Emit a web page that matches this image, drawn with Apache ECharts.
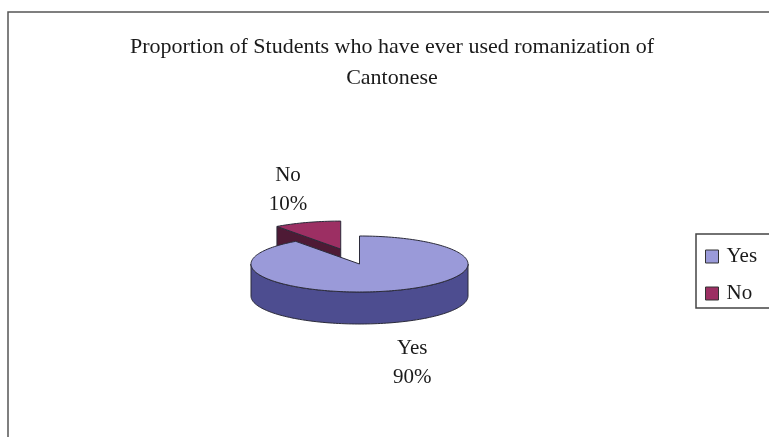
<!DOCTYPE html>
<html>
<head>
<meta charset="utf-8">
<script src="https://cdn.jsdelivr.net/npm/echarts@6/dist/echarts.min.js"></script>
<style>
  html, body { margin: 0; padding: 0; background: #ffffff; }
  #chart { width: 769px; height: 437px; }
</style>
</head>
<body>
<div id="chart"></div>
<script>
// Survey result: share of students who have ever used Cantonese romanization
const categories = ['Yes', 'No'];
const percents = [90, 10];
const chartTitle = 'Proportion of Students who have ever used romanization of\nCantonese';

// Styling
const topColors = ['#9a9ad9', '#9c2f63'];
const sideColors = ['#4d4d90', '#4e1a35'];
const explodeBy = { No: 0.56 };
const PIE = { cx: 359.5, cy: 264, rx: 108.5, ry: 28, depth: 32 };
const SERIF = '"Liberation Serif", "Times New Roman", serif';
const EDGE = '#2b2b3a';

const total = percents.reduce((a, b) => a + b, 0);

// Start angle of slice i: 12 o'clock, slices run clockwise
function startAngle(i) {
  let before = 0;
  for (let k = 0; k < i; k++) before += percents[k];
  return Math.PI / 2 - 2 * Math.PI * before / total;
}

function renderSlice(i) {
  return function (params, api) {
    const value = api.value(0);
    const name = categories[i];
    const a0 = startAngle(i);
    const a1 = a0 - 2 * Math.PI * value / total;
    const b = (a0 + a1) / 2;
    const e = explodeBy[name] || 0;
    const cx = PIE.cx + e * PIE.rx * Math.cos(b);
    const cy = PIE.cy - e * PIE.ry * Math.sin(b);
    const h = PIE.depth;
    const pt = (t, z) => [cx + PIE.rx * Math.cos(t), cy - PIE.ry * Math.sin(t) + (z || 0)];
    const arc = (s, t, z) => {
      const n = Math.max(2, Math.ceil(Math.abs(t - s) / 0.03));
      const out = [];
      for (let j = 0; j <= n; j++) out.push(pt(s + (t - s) * j / n, z));
      return out;
    };
    const children = [];

    // Outer wall: only the front half of the ellipse is visible
    for (let k = -2; k <= 2; k++) {
      const s = Math.min(a0, 2 * Math.PI * k);
      const t = Math.max(a1, -Math.PI + 2 * Math.PI * k);
      if (s > t + 1e-9) {
        const pts = arc(s, t, 0).concat(arc(t, s, h));
        children.push({
          type: 'polygon', shape: { points: pts },
          style: { fill: sideColors[i], stroke: EDGE, lineWidth: 1 }
        });
      }
    }

    // Radial walls, drawn when they face the viewer
    const radial = (t, normal) => {
      if (Math.sin(normal) < -1e-6) {
        const p = pt(t, 0), q = pt(t, h);
        children.push({
          type: 'polygon',
          shape: { points: [[cx, cy], p, q, [cx, cy + h]] },
          style: { fill: sideColors[i], stroke: EDGE, lineWidth: 1 }
        });
      }
    };
    radial(a0, a0 + Math.PI / 2);
    radial(a1, a1 - Math.PI / 2);

    // Top face
    children.push({
      type: 'polygon',
      shape: { points: [[cx, cy]].concat(arc(a0, a1, 0)) },
      style: { fill: topColors[i], stroke: EDGE, lineWidth: 1 }
    });

    // Category and percentage label outside the slice
    const anchor = pt(b, Math.sin(b) < 0 ? h : 0);
    children.push({
      type: 'text',
      x: anchor[0] + Math.cos(b) * 62,
      y: anchor[1] - Math.sin(b) * 38 + 4,
      style: {
        text: name + '\n' + value + '%',
        align: 'center', verticalAlign: 'middle',
        fontFamily: SERIF, fontSize: 21, lineHeight: 29, fill: '#1a1a1a'
      }
    });

    return { type: 'group', children: children };
  };
}

const chart = echarts.init(document.getElementById('chart'));
chart.setOption({
  backgroundColor: '#ffffff',
  animation: false,
  title: {
    text: chartTitle,
    left: 387, top: 27, textAlign: 'center',
    textStyle: { fontFamily: SERIF, fontSize: 22, fontWeight: 'normal', color: '#1a1a1a', lineHeight: 31 }
  },
  legend: {
    data: categories,
    orient: 'vertical',
    left: 696, top: 234,
    icon: 'rect', itemWidth: 13, itemHeight: 13, itemGap: 16,
    padding: [12, 30, 4, 9],
    borderColor: '#444', borderWidth: 1.5,
    itemStyle: { borderColor: '#333', borderWidth: 1 },
    textStyle: { fontFamily: SERIF, fontSize: 21, color: '#1a1a1a', padding: [0, 0, 0, 3] }
  },
  graphic: [{
    type: 'rect', silent: true,
    shape: { x: 8, y: 12, width: 800, height: 500 },
    style: { fill: 'none', stroke: '#555', lineWidth: 1.5 }
  }],
  series: categories.map((name, i) => ({
    type: 'custom',
    name: name,
    coordinateSystem: 'none',
    z: explodeBy[name] ? 1 : 2,
    itemStyle: { color: topColors[i] },
    data: [[percents[i]]],
    renderItem: renderSlice(i)
  }))
});
</script>
</body>
</html>
